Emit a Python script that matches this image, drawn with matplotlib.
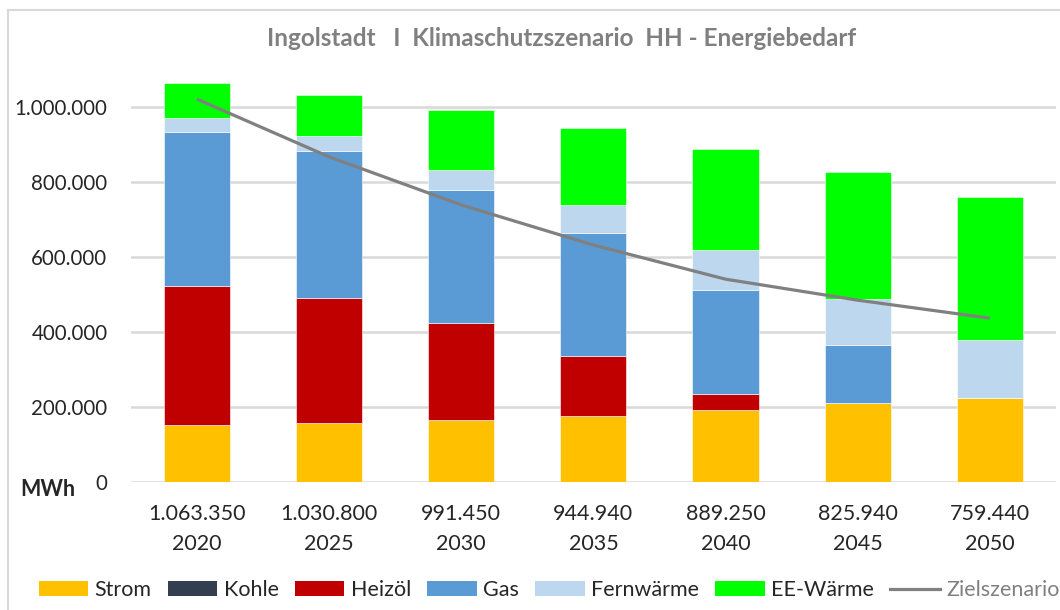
import matplotlib.pyplot as plt
from matplotlib.patches import Rectangle, Patch
from matplotlib.lines import Line2D

plt.rcParams['font.family'] = ['Lato', 'DejaVu Sans']

years = ['2020', '2025', '2030', '2035', '2040', '2045', '2050']
totals = ['1.063.350', '1.030.800', '991.450', '944.940', '889.250', '825.940', '759.440']

# MWh
strom = [152000, 157000, 165000, 176000, 191000, 212000, 225000]
kohle = [0, 0, 0, 0, 0, 0, 0]
heizoel = [371000, 334000, 259000, 160000, 45000, 0, 0]
gas = [410000, 392000, 355000, 328000, 277000, 153000, 0]
fernwaerme = [38000, 41000, 53000, 75000, 106000, 122000, 153000]
ee_waerme = [92350, 106800, 159450, 205940, 270250, 338940, 381440]
zielszenario = [1021000, 867000, 739000, 632000, 541000, 485000, 437000]

series = [
    ('Strom', strom, '#FFC000'),
    ('Kohle', kohle, '#333F50'),
    ('Heizöl', heizoel, '#C00000'),
    ('Gas', gas, '#5B9BD5'),
    ('Fernwärme', fernwaerme, '#BDD7EE'),
    ('EE-Wärme', ee_waerme, '#00FF00'),
]

fig = plt.figure(figsize=(10.6, 6.1), dpi=100)
ax = fig.add_axes([0.1236, 0.2098, 0.8724, 0.6762])

# chart frame
fig.patches.append(Rectangle((8 / 1060, -0.05), 1.1, 1 - 10 / 610 + 0.05,
                             transform=fig.transFigure, fill=False,
                             edgecolor='#D9D9D9', linewidth=1.5))

x = list(range(len(years)))
bottom = [0] * len(years)
for name, vals, col in series:
    ax.bar(x, vals, width=0.5, bottom=bottom, color=col, edgecolor='white',
           linewidth=0.4, zorder=3)
    bottom = [b + v for b, v in zip(bottom, vals)]

ax.plot(x, zielszenario, color='#808080', linewidth=2.3, zorder=4,
        solid_capstyle='butt')

ax.set_xlim(-0.5, 6.5)
ax.set_ylim(0, 1100000)
yt = [0, 200000, 400000, 600000, 800000, 1000000]
ax.set_yticks(yt)
ax.set_yticklabels(['0'] + [f'{v:,}'.replace(',', '.') for v in yt[1:]],
                   fontsize=14.8, color='#262626')
ax.set_xticks(x)
ax.set_xticklabels([f'{t}\n{y}' for t, y in zip(totals, years)],
                   fontsize=15.5, color='#262626', linespacing=1.6)
ax.tick_params(length=0)
ax.tick_params(axis='x', pad=16)
ax.tick_params(axis='y', pad=17)
ax.grid(axis='y', color='#D9D9D9', linewidth=1.8, zorder=0)
for s in ax.spines.values():
    s.set_visible(False)

fig.text(20 / 1060, 1 - 490 / 610, 'MWh', fontsize=15.5, fontweight='bold',
         color='#262626', va='center', ha='left')
fig.text(562 / 1060, 1 - 38 / 610,
         'Ingolstadt   I  Klimaschutzszenario  HH - Energiebedarf',
         fontsize=17.5, fontweight='bold', color='#808080', ha='center', va='center')

handles = [Patch(facecolor=c, edgecolor='none', label=n) for n, _, c in series]
handles.append(Line2D([0], [0], color='#808080', linewidth=2.3, label='Zielszenario'))
leg = fig.legend(handles=handles, loc='center left',
                 bbox_to_anchor=(30 / 1060, 1 - 590 / 610), ncol=7, frameon=False,
                 fontsize=15.5, handlelength=2.3, handleheight=0.65,
                 handletextpad=0.3, columnspacing=0.75, borderaxespad=0)
for t in leg.get_texts():
    t.set_color('#262626')
leg.get_texts()[-1].set_color('#808080')

fig.savefig('out.png', dpi=100)
